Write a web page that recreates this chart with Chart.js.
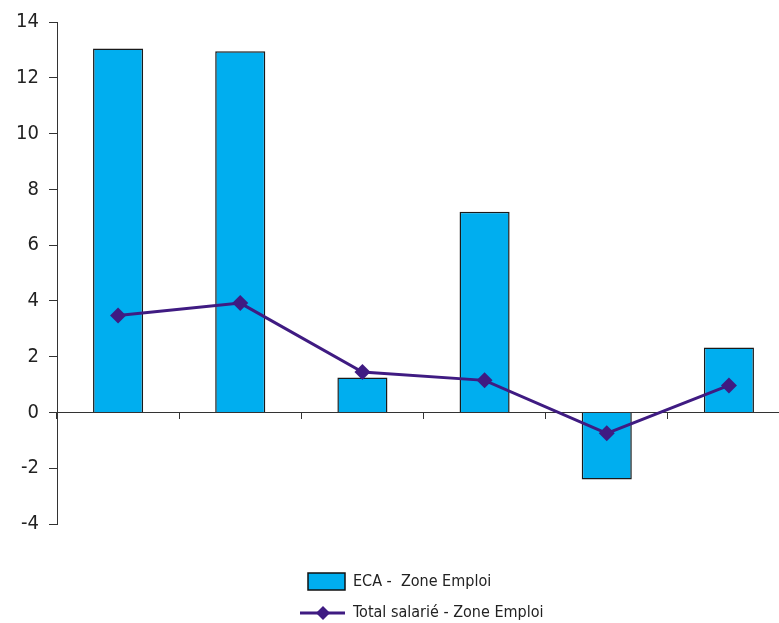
<!DOCTYPE html>
<html>
<head>
<meta charset="utf-8">
<script src="https://cdn.jsdelivr.net/npm/chart.js@4"></script>
<style>
  html, body { margin: 0; padding: 0; background: #fff; overflow: hidden; }
  #wrap { width: 798px; height: 623px; }
</style>
</head>
<body>
<div id="wrap"><canvas id="chart" width="798" height="623"></canvas></div>
<script>
const categories = ['1', '2', '3', '4', '5', '6'];
const ecaValues = [13.05, 12.95, 1.25, 7.2, -2.4, 2.33];
const totalValues = [3.48, 3.92, 1.45, 1.15, -0.75, 0.97];
const ecaLabel = 'ECA -  Zone Emploi';
const totalLabel = 'Total salarié - Zone Emploi';

const FONT = '"Liberation Sans Narrow", "DejaVu Sans Condensed", Arial, sans-serif';
const BLUE = '#00aeef';
const PURPLE = '#3f1b82';
const AXIS = '#333333';

// legend drawn by hand: the items are stacked, which Chart.js does not do
const stackedLegend = {
  id: 'stackedLegend',
  afterDraw(chart) {
    const c = chart.ctx;
    c.save();
    c.font = '16px ' + FONT;
    c.textBaseline = 'middle';
    // bar item
    c.fillStyle = BLUE;
    c.fillRect(308, 573, 37, 17);
    c.strokeStyle = '#111';
    c.lineWidth = 1.5;
    c.strokeRect(308, 573, 37, 17);
    c.fillStyle = '#222';
    c.fillText(ecaLabel, 353, 582);
    // line item
    c.strokeStyle = PURPLE;
    c.lineWidth = 3;
    c.beginPath();
    c.moveTo(300, 613);
    c.lineTo(345, 613);
    c.stroke();
    c.fillStyle = PURPLE;
    c.beginPath();
    c.moveTo(323, 606);
    c.lineTo(330, 613);
    c.lineTo(323, 620);
    c.lineTo(316, 613);
    c.closePath();
    c.fill();
    c.fillStyle = '#222';
    c.fillText(totalLabel, 353, 613);
    c.restore();
  }
};

new Chart(document.getElementById('chart').getContext('2d'), {
  type: 'bar',
  data: {
    labels: categories,
    datasets: [{
      type: 'line',
      label: totalLabel,
      data: totalValues,
      borderColor: PURPLE,
      backgroundColor: PURPLE,
      borderWidth: 3,
      pointStyle: 'rectRot',
      pointRadius: 8,
      pointHoverRadius: 8,
      pointBorderWidth: 0,
      tension: 0,
      order: 0
    }, {
      label: ecaLabel,
      data: ecaValues,
      backgroundColor: BLUE,
      borderColor: '#1a1a1a',
      borderWidth: 1.5,
      barPercentage: 0.41,
      categoryPercentage: 1,
      order: 1
    }]
  },
  options: {
    responsive: false,
    animation: false,
    layout: { padding: { top: 22, bottom: 99, left: 0, right: 0 } },
    plugins: {
      legend: { display: false },
      tooltip: { enabled: false }
    },
    scales: {
      x: {
        position: { y: 0 },
        offset: true,
        grid: {
          offset: true,
          drawOnChartArea: false,
          drawTicks: true,
          tickLength: 6,
          color: AXIS
        },
        border: { color: AXIS, width: 1 },
        ticks: { display: false }
      },
      y: {
        min: -4,
        max: 14,
        afterFit(scale) { scale.width = 57; },
        ticks: {
          stepSize: 2,
          padding: 10,
          color: '#222',
          font: { family: FONT, size: 20 }
        },
        grid: {
          drawOnChartArea: false,
          drawTicks: true,
          tickLength: 8,
          color: AXIS
        },
        border: { color: AXIS, width: 1 }
      }
    }
  },
  plugins: [stackedLegend]
});
</script>
</body>
</html>
